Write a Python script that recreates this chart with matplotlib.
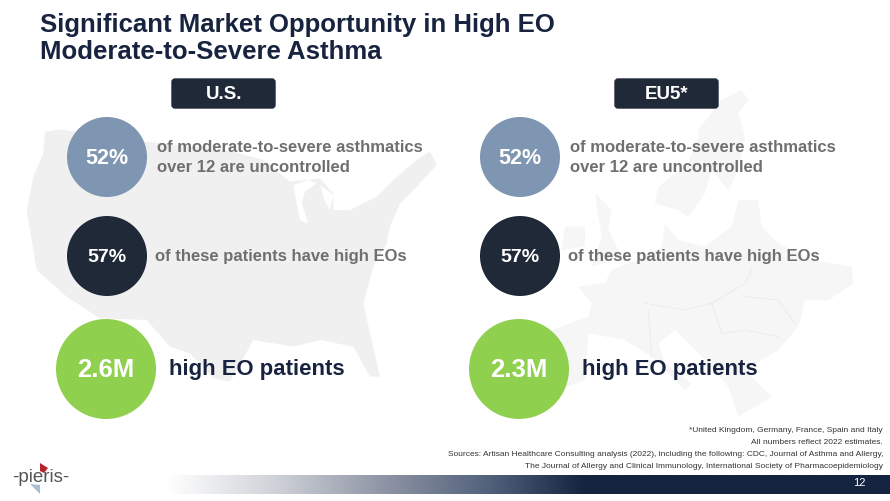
import numpy as np
import matplotlib
matplotlib.use("Agg")
import matplotlib.pyplot as plt
from matplotlib.patches import Circle, FancyBboxPatch, Polygon
from matplotlib.colors import LinearSegmentedColormap

plt.rcParams['font.family'] = ['Liberation Sans', 'DejaVu Sans']

# ======================================================
# Slide content
# ======================================================
title_lines = ["Significant Market Opportunity in High EO", "Moderate-to-Severe Asthma"]
regions = ["U.S.", "EU5*"]
uncontrolled = ["52%", "52%"]
high_eos = ["57%", "57%"]
patients = ["2.6M", "2.3M"]
text_uncontrolled = ["of moderate-to-severe asthmatics", "over 12 are uncontrolled"]
text_high_eos = "of these patients have high EOs"
text_patients = "high EO patients"
footnotes = [
    "*United Kingdom, Germany, France, Spain and Italy",
    "All numbers reflect 2022 estimates.",
    "Sources: Artisan Healthcare Consulting analysis (2022), including the following: CDC, Journal of Asthma and Allergy,",
    "The Journal of Allergy and Clinical Immunology, International Society of Pharmacoepidemiology",
]
page_number = "12"

us_outline = [(135,185),(180,178),(440,215),(700,245),(790,270),(870,335),(960,325),(1000,370),
              (1000,420),(1050,420),(1130,380),(1180,330),(1250,270),(1290,245),(1310,285),(1250,350),
              (1200,400),(1170,470),(1160,520),(1120,590),(1090,700),(1110,790),(1140,920),(1110,920),
              (1060,830),(960,810),(880,830),(760,810),(690,935),(640,925),(570,850),(510,830),
              (440,750),(300,745),(200,680),(110,600),(80,420),(100,320),(130,250)]
us_lakes = [
    [(880,345),(925,330),(950,340),(915,365),(905,400),(925,460),(900,450),(890,400)],
    [(960,345),(1000,375),(990,420),(975,395)],
]
eu_outlines = [
    [(760,180),(830,90),(890,60),(910,90),(880,130),(900,200),(880,300),(850,360),(800,300),(780,370),
     (730,440),(700,420),(630,400),(640,350),(730,280),(760,200)],
    [(400,650),(480,640),(500,600),(600,560),(650,530),(660,460),(700,510),(780,530),(860,470),(880,390),
     (940,390),(950,470),(1000,520),(1100,570),(1220,590),(1225,640),(1150,690),(1080,690),(1060,770),
     (1000,840),(900,900),(980,980),(880,1040),(850,950),(780,870),(710,800),(690,780),(640,820),(660,880),
     (740,940),(720,960),(620,860),(540,810),(430,790),(420,930),(340,960),(280,950),(320,780),(430,740),(440,700)],
    [(450,370),(500,420),(490,480),(530,560),(440,590),(470,500)],
    [(360,470),(420,470),(420,530),(350,540)],
]
eu_borders = [
    [(600,700),(720,720),(800,700),(900,640),(920,600)],
    [(800,700),(830,790),(900,780),(1000,800)],
    [(620,860),(610,720)],
    [(900,680),(1000,690),(1050,760)],
]

NAVY = "#1f2937"
GREY = "#6f6f6f"
TITLE = "#17233f"

fig = plt.figure(figsize=(8.9, 5.01), dpi=100)
ax = fig.add_axes([0, 0, 1, 1])
ax.set_xlim(0, 890)
ax.set_ylim(501, 0)
ax.axis("off")

def zoom_pts(pts, x0):
    return [(x0 + x / 3, 70 + y / 3) for x, y in pts]

# ======================================================
# Backdrop maps
# ======================================================
ax.add_patch(Polygon(zoom_pts(us_outline, 0), color="#f0f0f0", lw=0, zorder=1))
for pts in us_lakes:
    ax.add_patch(Polygon(zoom_pts(pts, 0), color="white", lw=0, zorder=1))
for pts in eu_outlines:
    ax.add_patch(Polygon(zoom_pts(pts, 445), color="#f6f6f6", lw=0, zorder=1))
for pts in eu_borders:
    xy = np.array(zoom_pts(pts, 445))
    ax.plot(xy[:, 0], xy[:, 1], color="#ececec", lw=0.8, zorder=1)

# ======================================================
# Title
# ======================================================
ax.text(40, 24.5, title_lines[0], fontsize=18.5, fontweight="bold", color=TITLE, va="center", zorder=5)
ax.text(40, 51.5, title_lines[1], fontsize=18.5, fontweight="bold", color=TITLE, va="center", zorder=5)

# ======================================================
# The two panels
# ======================================================
box_left = [172, 615]
for i, x0 in enumerate([0, 413]):
    ax.add_patch(FancyBboxPatch((box_left[i], 79), 103, 29, boxstyle="round,pad=0,rounding_size=3",
                                fc=NAVY, ec=NAVY, lw=1, zorder=3))
    ax.text(box_left[i] + 52, 94, regions[i], fontsize=13.5, fontweight="bold", color="white",
            ha="center", va="center", zorder=5)

    ax.add_patch(Circle((107 + x0, 157), 40, fc="#7f96b2", ec="none", zorder=3))
    ax.text(107 + x0, 159, uncontrolled[i], fontsize=15.5, fontweight="bold", color="white",
            ha="center", va="center", zorder=5)
    ax.text(157 + x0, 148, text_uncontrolled[0], fontsize=12, fontweight="bold", color=GREY, va="center", zorder=5)
    ax.text(157 + x0, 168, text_uncontrolled[1], fontsize=12, fontweight="bold", color=GREY, va="center", zorder=5)

    ax.add_patch(Circle((107 + x0, 256), 40, fc=NAVY, ec="none", zorder=3))
    ax.text(107 + x0, 258, high_eos[i], fontsize=14, fontweight="bold", color="white",
            ha="center", va="center", zorder=5)
    ax.text(155 + x0, 256, text_high_eos, fontsize=12, fontweight="bold", color=GREY, va="center", zorder=5)

    ax.add_patch(Circle((106 + x0, 369), 50, fc="#90d04f", ec="none", zorder=3))
    ax.text(106 + x0, 370, patients[i], fontsize=18.5, fontweight="bold", color="white",
            ha="center", va="center", zorder=5)
    ax.text(169 + x0, 369, text_patients, fontsize=15.9, fontweight="bold", color=TITLE, va="center", zorder=5)

# ======================================================
# Footnotes
# ======================================================
for y, line in zip([431, 443, 454, 466], footnotes):
    ax.text(883, y, line, fontsize=6.0, color="#333333", ha="right", va="center", zorder=5)

# ======================================================
# Footer bar and logo
# ======================================================
cmap = LinearSegmentedColormap.from_list(
    "bar", [(0, "#ffffff"), (0.15, "#cfd2d8"), (0.3, "#8f95a5"), (0.45, "#50607a"), (0.58, "#14233f"), (1, "#14233f")])
grad = np.linspace(0, 1, 400).reshape(1, -1)
ax.imshow(grad, cmap=cmap, extent=[165, 890, 494, 475], aspect="auto", zorder=2)
ax.set_xlim(0, 890)
ax.set_ylim(501, 0)
ax.text(859, 483.5, page_number, fontsize=8, color="white", ha="center", va="center", zorder=5)

ax.text(41, 478, "-pieris-", fontsize=13.5, color="#555555", ha="center", va="center", zorder=5)
ax.add_patch(Polygon([(40, 463), (48, 468), (44, 473), (40, 471)], color="#b5232a", lw=0, zorder=5))
ax.add_patch(Polygon([(30, 484), (40, 485), (40, 494)], color="#a9bfd2", lw=0, zorder=5))

fig.savefig("out.png", dpi=100)
